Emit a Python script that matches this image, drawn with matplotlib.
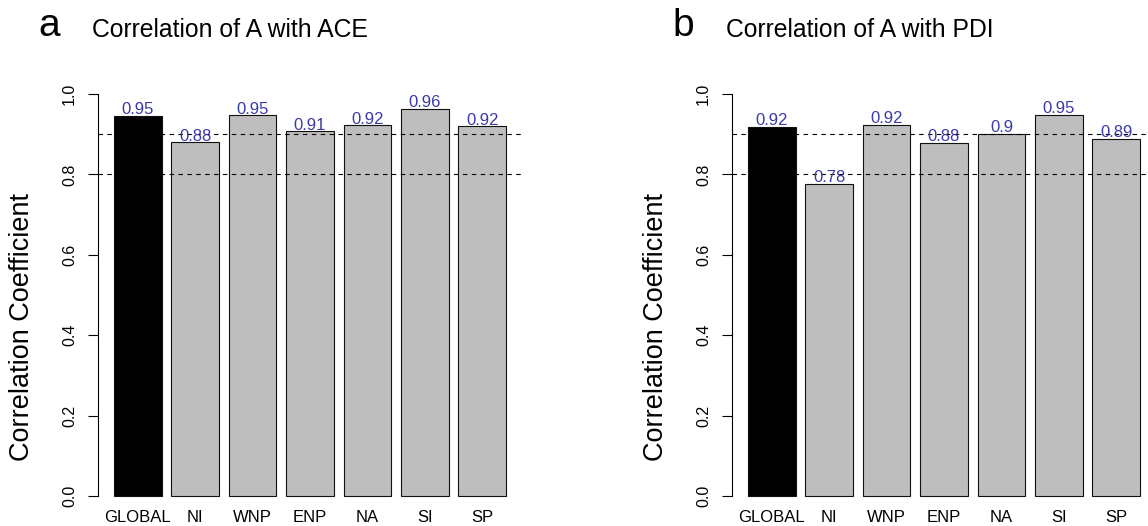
import matplotlib
matplotlib.use("Agg")
import matplotlib.pyplot as plt

plt.rcParams['font.family'] = ['Liberation Sans', 'DejaVu Sans']

regions = ["GLOBAL", "NI", "WNP", "ENP", "NA", "SI", "SP"]
corr_ace = [0.946, 0.880, 0.947, 0.907, 0.922, 0.963, 0.920]
corr_pdi = [0.918, 0.776, 0.924, 0.878, 0.901, 0.948, 0.889]
ref_lines = [0.8, 0.9]
yticks = [0.0, 0.2, 0.4, 0.6, 0.8, 1.0]

W, H = 1148, 526
fig = plt.figure(figsize=(W / 100, H / 100), dpi=100)

lab_col = '#3a3aa8'
bar_cols = ['black'] + ['#bebebe'] * (len(regions) - 1)
centers = [0.7 + 1.2 * i for i in range(len(regions))]


def panel(x0, vals, letter, title):
    # plot region in pixels: x0..x0+424, y 78..512 (from top)
    ax = fig.add_axes([x0 / W, (H - 512) / H, 424 / W, 434 / H])
    ax.bar(centers, vals, width=1.0, color=bar_cols, edgecolor='#111111',
           linewidth=0.8, zorder=2)
    for v in ref_lines:
        ax.axhline(v, color='black', lw=0.8, ls=(0, (4, 4)), zorder=3)
    for c, v in zip(centers, vals):
        ax.text(c, v + 0.004, f"{round(v, 2):g}", color=lab_col, fontsize=12,
                ha='center', va='baseline', zorder=4, clip_on=False)
    for c, name in zip(centers, regions):
        ax.text(c, -0.065, name, fontsize=12, ha='center', va='baseline',
                clip_on=False)
    ax.set_xlim(-0.128, 8.728)
    ax.set_ylim(-0.04, 1.04)
    ax.set_xticks([])
    ax.set_yticks(yticks)
    ax.set_yticklabels([f"{t:.1f}" for t in yticks], rotation=90,
                       va='center', fontsize=11.5)
    ax.tick_params(axis='y', length=7.2, width=0.8, pad=8)
    for s in ['top', 'right', 'bottom']:
        ax.spines[s].set_visible(False)
    ax.spines['left'].set_bounds(0, 1)
    ax.spines['left'].set_linewidth(0.8)
    ax.patch.set_alpha(0)

    fig.text((x0 - 76) / W, (H - 327) / H, "Correlation Coefficient",
             rotation=90, fontsize=19.5, ha='center', va='center')
    fig.text((x0 - 60) / W, (H - 36) / H, letter, fontsize=28,
             ha='left', va='baseline')
    fig.text((x0 - 6) / W, (H - 37) / H, title, fontsize=17.8,
             ha='left', va='baseline')
    return ax


panel(98, corr_ace, "a", "Correlation of A with ACE")
panel(732, corr_pdi, "b", "Correlation of A with PDI")

fig.savefig("out.png", dpi=100)
